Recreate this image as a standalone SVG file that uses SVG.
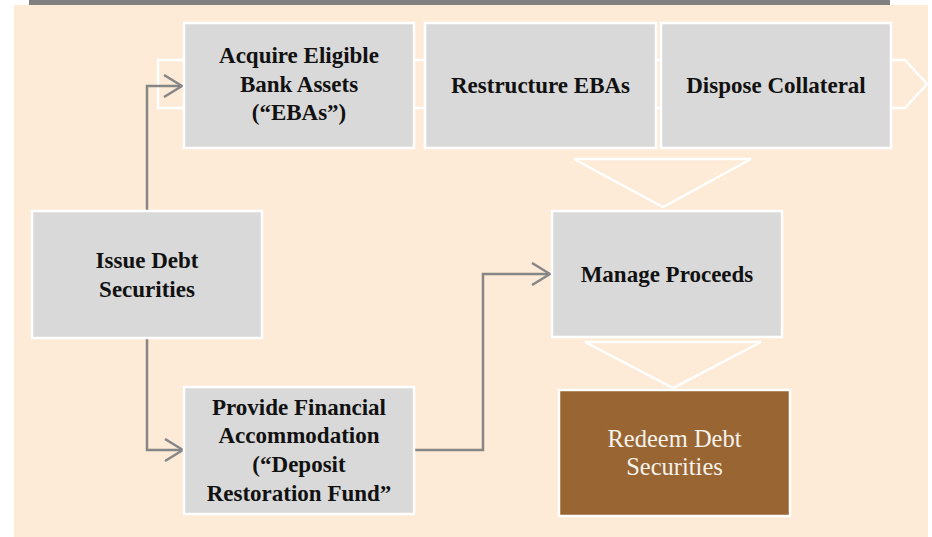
<svg xmlns="http://www.w3.org/2000/svg" width="932" height="537" viewBox="0 0 932 537">
<defs>
<style>
.bg{fill:#fdebd7}
.bar{fill:#808080}
.box{fill:#d9d9d9;stroke:#ffffff;stroke-width:2.5}
.final{fill:#996633;stroke:#ffffff;stroke-width:2.5}
.shape{fill:none;stroke:#ffffff;stroke-width:2.5;stroke-linejoin:miter}
.conn{fill:none;stroke:#868686;stroke-width:2.5}
.t{font-family:"Liberation Serif","Times New Roman",serif;font-weight:bold;font-size:23px;fill:#111111;text-anchor:middle}
.tw{font-family:"Liberation Serif","Times New Roman",serif;font-weight:normal;font-size:24.5px;fill:#f6f2ec;text-anchor:middle}
</style>
<marker id="arr" viewBox="0 0 20 24" refX="19" refY="12" markerWidth="20" markerHeight="24" markerUnits="userSpaceOnUse" orient="auto">
<path d="M1,1 L19,12 L1,23" fill="none" stroke="#868686" stroke-width="2.5"/>
</marker>
</defs>
<rect class="bg" x="14" y="5" width="914" height="532"/>
<rect class="bar" x="29" y="0" width="861" height="5"/>

<g id="process-arrow">
<polygon class="shape" points="158,60 905,60 927,84 905,108 158,108"/>
</g>
<g id="down-arrow-1">
<polygon class="shape" points="574,159 751,159 663,207"/>
</g>
<g id="down-arrow-2">
<polygon class="shape" points="585,342 761,342 673,388"/>
</g>

<g id="connectors">
<path class="conn" d="M147,210 V86 H182" marker-end="url(#arr)"/>
<path class="conn" d="M147,339 V450 H183" marker-end="url(#arr)"/>
<path class="conn" d="M415,450 H483 V274 H550" marker-end="url(#arr)"/>
</g>

<g id="acquire">
<rect class="box" x="184" y="23" width="230" height="125"/>
<text class="t" x="299" y="63">Acquire Eligible</text>
<text class="t" x="299" y="92">Bank Assets</text>
<text class="t" x="299" y="120">(“EBAs”)</text>
</g>
<g id="restructure">
<rect class="box" x="425" y="23" width="231" height="125"/>
<text class="t" x="540.5" y="93">Restructure EBAs</text>
</g>
<g id="dispose">
<rect class="box" x="661" y="23" width="230" height="125"/>
<text class="t" x="776" y="93">Dispose Collateral</text>
</g>
<g id="issue">
<rect class="box" x="32" y="211" width="230" height="127"/>
<text class="t" x="147" y="268">Issue Debt</text>
<text class="t" x="147" y="297">Securities</text>
</g>
<g id="manage">
<rect class="box" x="552" y="211" width="230" height="126"/>
<text class="t" x="667" y="282">Manage Proceeds</text>
</g>
<g id="provide">
<rect class="box" x="184" y="387" width="230" height="127"/>
<text class="t" x="299" y="415">Provide Financial</text>
<text class="t" x="299" y="443">Accommodation</text>
<text class="t" x="299" y="472">(“Deposit</text>
<text class="t" x="299" y="501">Restoration Fund”</text>
</g>
<g id="redeem">
<rect class="final" x="559" y="390" width="231" height="126"/>
<text class="tw" x="674.5" y="447">Redeem Debt</text>
<text class="tw" x="674.5" y="475">Securities</text>
</g>
</svg>
